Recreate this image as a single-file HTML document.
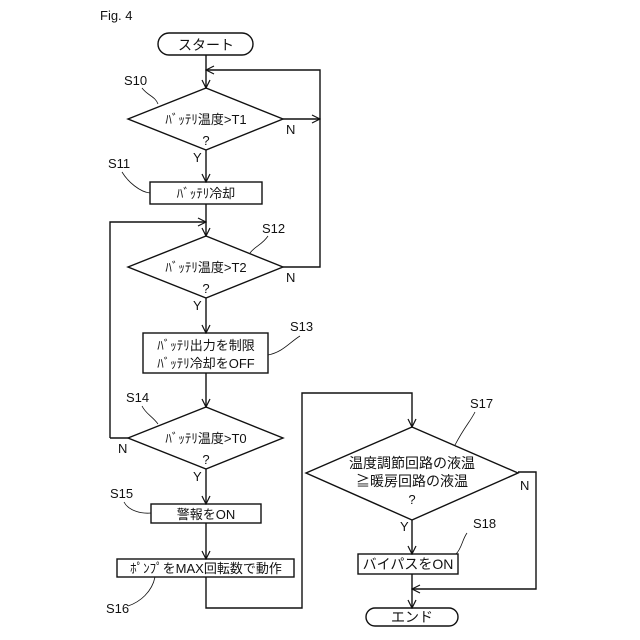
<!DOCTYPE html>
<html><head><meta charset="utf-8"><style>
html,body{margin:0;padding:0;background:#fff}
svg{display:block}
text{font-family:"Liberation Sans","Noto Sans CJK JP",sans-serif;fill:#111}
</style></head><body>
<svg width="640" height="640" viewBox="0 0 640 640" xmlns="http://www.w3.org/2000/svg">
<defs><marker id="a" markerWidth="10" markerHeight="10" refX="9" refY="5" orient="auto" markerUnits="userSpaceOnUse"><path d="M1,1 L9,5 L1,9" fill="none" stroke="#111" stroke-width="1.2"/></marker></defs>
<g stroke="#111" stroke-width="1.4" fill="none">
<text x="100" y="20" font-size="13" stroke="none">Fig. 4</text>
<rect x="158" y="33" width="95" height="22" rx="11"/>
<!-- start to D1 -->
<line x1="206" y1="55" x2="206" y2="88" marker-end="url(#a)"/>
<polyline points="320,118 320,70 206,70" marker-end="url(#a)"/>
<polygon points="128,119 206,88 283,119 206,150"/>
<line x1="283" y1="119" x2="320" y2="119" marker-end="url(#a)"/>
<line x1="206" y1="150" x2="206" y2="182" marker-end="url(#a)"/>
<rect x="150" y="182" width="112" height="22"/>
<line x1="206" y1="204" x2="206" y2="236" marker-end="url(#a)"/>
<polyline points="110,438 110,222 206,222" marker-end="url(#a)"/>
<polygon points="128,267 206,236 283,267 206,298"/>
<polyline points="283,267 320,267 320,118"/>
<line x1="206" y1="298" x2="206" y2="333" marker-end="url(#a)"/>
<rect x="143" y="333" width="125" height="40"/>
<line x1="206" y1="373" x2="206" y2="407" marker-end="url(#a)"/>
<polygon points="128,438 206,407 283,438 206,469"/>
<line x1="128" y1="438" x2="110" y2="438"/>
<line x1="206" y1="469" x2="206" y2="504" marker-end="url(#a)"/>
<rect x="151" y="504" width="110" height="19"/>
<line x1="206" y1="523" x2="206" y2="559" marker-end="url(#a)"/>
<rect x="117" y="559" width="177" height="18"/>
<polyline points="206,577 206,608 302,608 302,393 412,393 412,427" marker-end="url(#a)"/>
<polygon points="306,473 412,427 518,473 412,520"/>
<line x1="412" y1="520" x2="412" y2="554" marker-end="url(#a)"/>
<rect x="358" y="554" width="100" height="20"/>
<polyline points="518,472 536,472 536,589 412,589" marker-end="url(#a)"/>
<line x1="412" y1="574" x2="412" y2="608" marker-end="url(#a)"/>
<rect x="366" y="608" width="92" height="18" rx="9"/>
<!-- leaders -->
<g stroke-width="0.8">
<path d="M142,88 C148,96 155,96 158,104"/>
<path d="M122,172 C128,182 140,192 150,193"/>
<path d="M268,236 C262,245 255,246 250,253"/>
<path d="M300,336 C290,342 283,352 268,355"/>
<path d="M142,406 C146,414 152,416 158,424"/>
<path d="M124,502 C128,510 140,514 151,513"/>
<path d="M155,577 C152,592 140,602 128,606"/>
<path d="M475,412 C470,422 465,426 455,445"/>
<path d="M467,533 C462,540 462,548 456,554"/>
</g>
</g>
<g font-size="13">
<text x="206" y="50" text-anchor="middle" font-size="14">スタート</text>
<text x="206" y="124" text-anchor="middle">ﾊﾞｯﾃﾘ温度&gt;T1</text>
<text x="206" y="145" text-anchor="middle">?</text>
<text x="206" y="198" text-anchor="middle">ﾊﾞｯﾃﾘ冷却</text>
<text x="206" y="272" text-anchor="middle">ﾊﾞｯﾃﾘ温度&gt;T2</text>
<text x="206" y="293" text-anchor="middle">?</text>
<text x="206" y="350" text-anchor="middle">ﾊﾞｯﾃﾘ出力を制限</text>
<text x="206" y="368" text-anchor="middle">ﾊﾞｯﾃﾘ冷却をOFF</text>
<text x="206" y="443" text-anchor="middle">ﾊﾞｯﾃﾘ温度&gt;T0</text>
<text x="206" y="464" text-anchor="middle">?</text>
<text x="206" y="519" text-anchor="middle">警報をON</text>
<text x="206" y="573" text-anchor="middle">ﾎﾟﾝﾌﾟをMAX回転数で動作</text>
<text x="412" y="468" text-anchor="middle" font-size="14">温度調節回路の液温</text>
<text x="412" y="486" text-anchor="middle" font-size="14">≧暖房回路の液温</text>
<text x="412" y="504" text-anchor="middle">?</text>
<text x="408" y="569" text-anchor="middle" font-size="14">バイパスをON</text>
<text x="412" y="622" text-anchor="middle" font-size="14">エンド</text>
<text x="124" y="85">S10</text>
<text x="108" y="168">S11</text>
<text x="262" y="233">S12</text>
<text x="290" y="331">S13</text>
<text x="126" y="402">S14</text>
<text x="110" y="498">S15</text>
<text x="106" y="613">S16</text>
<text x="470" y="408">S17</text>
<text x="473" y="528">S18</text>
<text x="193" y="162">Y</text>
<text x="193" y="310">Y</text>
<text x="193" y="481">Y</text>
<text x="400" y="531">Y</text>
<text x="286" y="134">N</text>
<text x="286" y="282">N</text>
<text x="118" y="453">N</text>
<text x="520" y="490">N</text>
</g>
</svg>
</body></html>
